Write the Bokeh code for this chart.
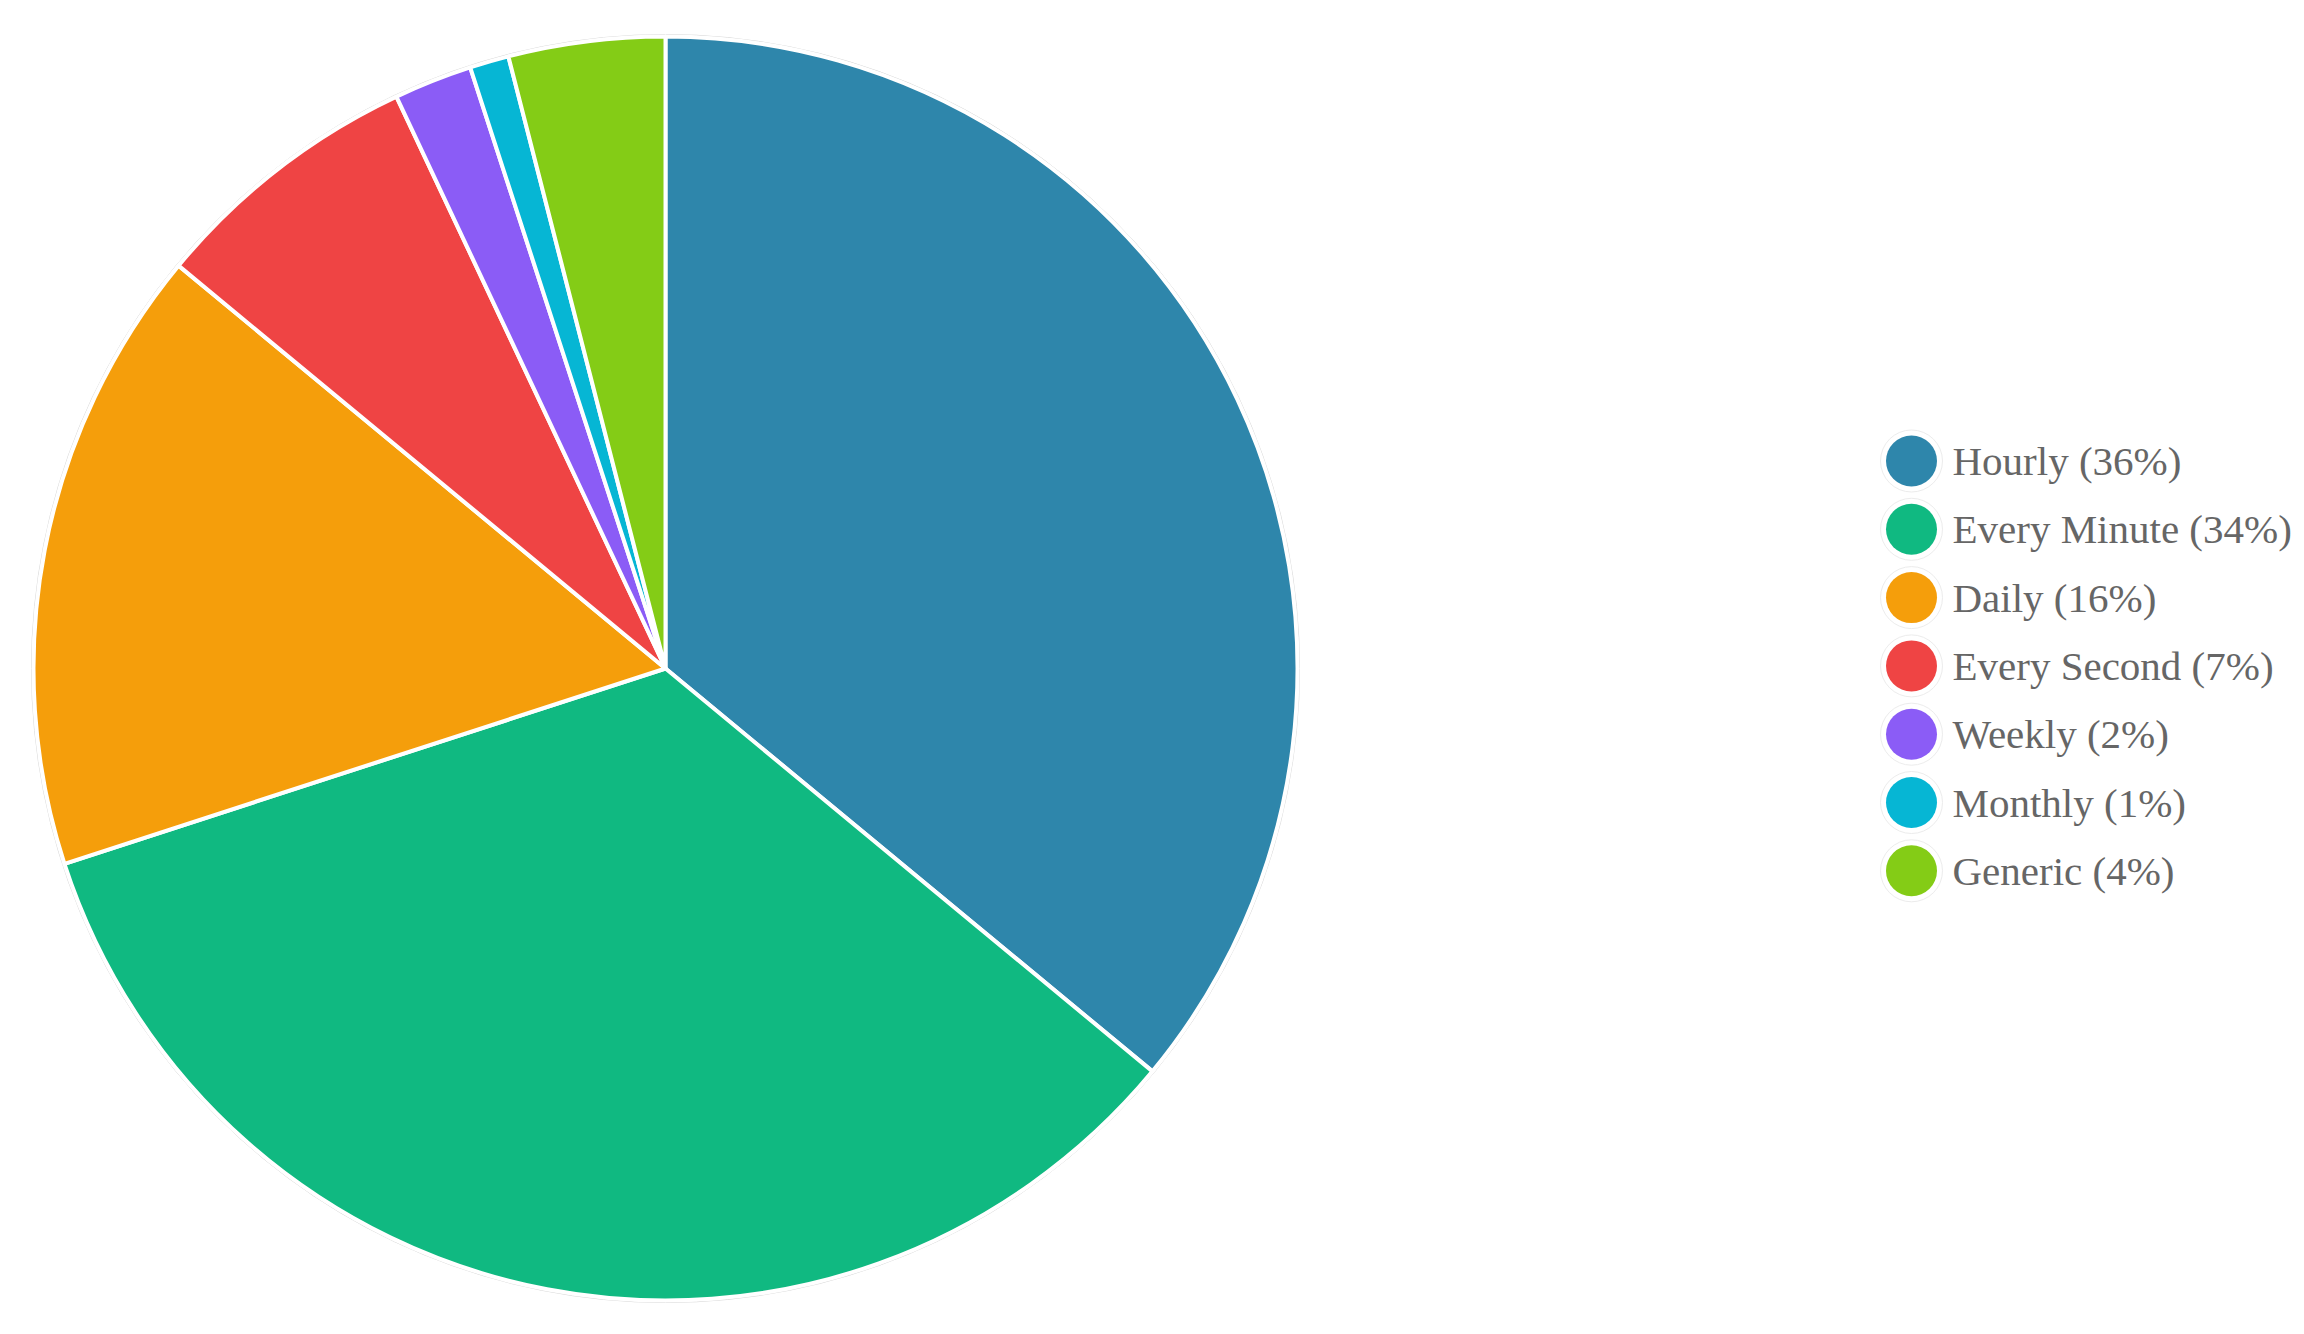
from bokeh.plotting import figure
from bokeh.models import Range1d, ColumnDataSource
from bokeh.embed import file_html
from bokeh.resources import INLINE
from bokeh.core.properties import value
import math

categories = ["Hourly", "Every Minute", "Daily", "Every Second", "Weekly", "Monthly", "Generic"]
percents = [36, 34, 16, 7, 2, 1, 4]
colors = ["#2E86AB", "#10B981", "#F59E0B", "#EF4444", "#8B5CF6", "#06B6D4", "#84CC16"]

W, H = 2300, 1318
p = figure(width=W, height=H, output_backend="svg", toolbar_location=None,
           x_range=Range1d(0, W), y_range=Range1d(0, H), min_border=0)
p.axis.visible = False
p.grid.visible = False
p.outline_line_color = None
p.background_fill_color = "white"

cx, cy, r = 665, 1318 - 668, 632
total = sum(percents)
starts, ends = [], []
acc = 0.0
for v in percents:
    starts.append(math.pi / 2 - 2 * math.pi * acc / total)
    acc += v
    ends.append(math.pi / 2 - 2 * math.pi * acc / total)

src = ColumnDataSource(dict(start=starts, end=ends, color=colors,
                            x=[cx] * len(percents), y=[cy] * len(percents)))
p.circle(x=cx, y=cy, radius=r + 2, fill_color=None, line_color="#d8d8d8", line_width=1)
p.wedge(x="x", y="y", radius=r, start_angle="start", end_angle="end", direction="clock",
        fill_color="color", line_color="white", line_width=4, source=src)

# legend
lx, ly0, step = 1911, 1318 - 460.5, 68.3
ly = [ly0 - i * step for i in range(len(categories))]
labels = [f"{c} ({v}%)" for c, v in zip(categories, percents)]
lsrc = ColumnDataSource(dict(x=[lx] * len(categories), y=ly, color=colors, label=labels,
                             tx=[lx + 41] * len(categories)))
p.circle(x="x", y="y", radius=31, fill_color="white", line_color="#ececec", line_width=1, source=lsrc)
p.circle(x="x", y="y", radius=25.5, fill_color="color", line_color=None, source=lsrc)
p.text(x="tx", y="y", text="label", text_font=value("Liberation Serif"), text_font_size="41px",
       text_color="#666666", text_baseline="middle", text_align="left", source=lsrc)

open("out.html", "w").write(file_html(p, INLINE))
